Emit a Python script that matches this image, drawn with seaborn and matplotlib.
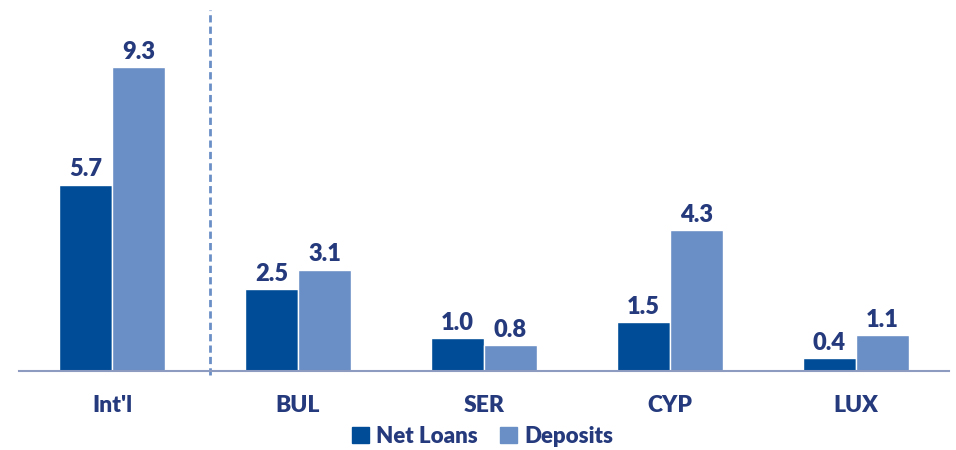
import pandas as pd
import matplotlib
matplotlib.use("Agg")
import matplotlib.pyplot as plt
import seaborn as sns

# Data
regions = ["Int'l", "BUL", "SER", "CYP", "LUX"]
net_loans = [5.7, 2.5, 1.0, 1.5, 0.4]
deposits = [9.3, 3.1, 0.8, 4.3, 1.1]

df = pd.DataFrame({
    "Region": regions * 2,
    "Series": ["Net Loans"] * len(regions) + ["Deposits"] * len(regions),
    "Value": net_loans + deposits,
})

sns.set_style("white")
plt.rcParams['font.family'] = ['Lato', 'DejaVu Sans']

navy = "#253A7C"
palette = {"Net Loans": "#004C97", "Deposits": "#6A8FC6"}

fig = plt.figure(figsize=(9.56, 4.5), dpi=100)
ax = fig.add_axes([19/956, 79/450, 930/956, 361/450])

sns.barplot(data=df, x="Region", y="Value", hue="Series", palette=palette,
            width=0.57, gap=0, saturation=1, ax=ax, legend=False)

for c in ax.containers:
    ax.bar_label(c, fmt="%.1f", padding=3, fontsize=17, fontweight="heavy", color=navy)

ax.set_xlim(-0.5, 4.5)
ax.set_ylim(0, 11.04)
ax.set_xlabel("")
ax.set_ylabel("")
ax.set_yticks([])
ax.tick_params(axis="x", length=0, pad=17, labelsize=16.5, labelcolor=navy)
for t in ax.get_xticklabels():
    t.set_fontweight("heavy")

for s in ["top", "right", "left"]:
    ax.spines[s].set_visible(False)
ax.spines["bottom"].set_color("#8E9BC0")
ax.spines["bottom"].set_linewidth(1.5)

# separator between international and the rest
ax.axvline(0.527, ymin=-0.012, ymax=1.0, color="#6A8FC6", linestyle=(0, (2.6, 1.5)),
           linewidth=2, clip_on=False)

handles = [plt.Rectangle((0, 0), 1, 1, color=palette[k]) for k in palette]
leg = fig.legend(handles, list(palette.keys()), loc="center", bbox_to_anchor=(0.505, 0.03),
                 ncol=2, frameon=False, handlelength=0.75, handleheight=0.75,
                 handletextpad=0.35, columnspacing=1.0, prop={"size": 16, "weight": "heavy"})
for t in leg.get_texts():
    t.set_color(navy)

fig.savefig("out.png", dpi=100)
